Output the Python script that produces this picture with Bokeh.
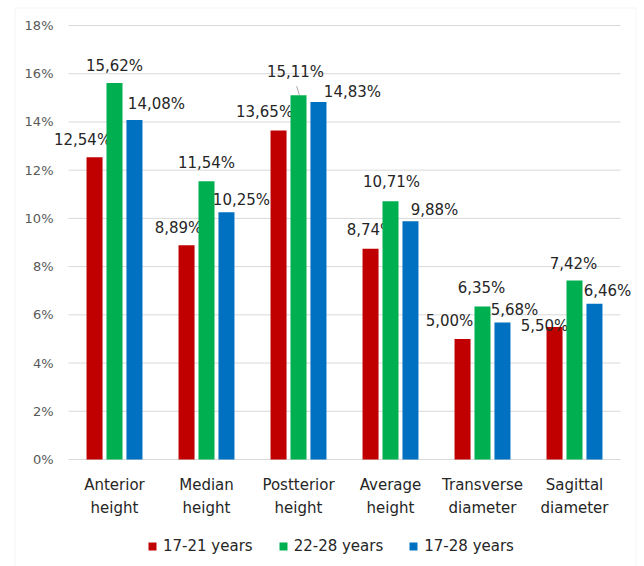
from bokeh.plotting import figure
from bokeh.models import (ColumnDataSource, Range1d, FixedTicker,
                          PrintfTickFormatter, Legend, LegendItem, BoxAnnotation)
from bokeh.embed import file_html
from bokeh.resources import INLINE
from bokeh.core.properties import value

categories = ["Anterior\nheight", "Median\nheight", "Postterior\nheight",
              "Average\nheight", "Transverse\ndiameter", "Sagittal\ndiameter"]
series_names = ["17-21 years", "22-28 years", "17-28 years"]
v_17_21 = [12.54, 8.89, 13.65, 8.74, 5.00, 5.50]
v_22_28 = [15.62, 11.54, 15.11, 10.71, 6.35, 7.42]
v_17_28 = [14.08, 10.25, 14.83, 9.88, 5.68, 6.46]
y_ticks = [0, 2, 4, 6, 8, 10, 12, 14, 16, 18]

series = [v_17_21, v_22_28, v_17_28]
colors = ["#C00000", "#00B050", "#0070C0"]
offsets = [-0.217, 0.0, 0.217]
# label pixel nudges (style), as Excel moved them
label_dx = [[-12, -8, -14, 0, -13, -10],
            [0, 0, -3, 1, -1, -1],
            [22, 15, 34, 24, 12, 13]]
label_dy = [[-17, -17, -18, -19, -18, -1],
            [-17, -18, -23, -19, -18, -17],
            [-16, -12, -10, -11, -13, -13]]

FONT = "DejaVu Sans"
TXT = "#262626"
GRID = "#d9d9d9"

n = len(categories)
centers = [i + 0.5 for i in range(n)]

PX_X = 92.0       # pixels per category
PX_Y = 24.111     # pixels per percent
x0, x1 = -55 / PX_X, n + 16 / PX_X
y0, y1 = -107 / PX_Y, y_ticks[-1] + 19 / PX_Y

p = figure(width=644, height=566, output_backend="svg", toolbar_location=None,
           x_range=Range1d(x0, x1), y_range=Range1d(y0, y1),
           min_border_left=13, min_border_right=8, min_border_top=6,
           min_border_bottom=0)
p.outline_line_color = None
p.background_fill_color = "white"
p.border_fill_color = "white"
p.xgrid.visible = False
p.ygrid.visible = False

# outer chart border (open at the bottom edge of the picture)
p.add_layout(BoxAnnotation(left=x0 + 1.5 / PX_X, right=x1 - 0.5 / PX_X,
                           top=y1 - 1.5 / PX_Y, bottom=y0 - 2,
                           fill_color=None, line_color=GRID, line_width=1))

# horizontal gridlines across the category span
p.segment(x0=[0] * len(y_ticks), x1=[n] * len(y_ticks), y0=y_ticks, y1=y_ticks,
          line_color=GRID, line_width=1)

renderers = []
for vals, col, off, dx, dy in zip(series, colors, offsets, label_dx, label_dy):
    xs = [c + off for c in centers]
    src = ColumnDataSource(dict(x=xs, top=vals,
                                lab=[f"{v:.2f}".replace(".", ",") + "%" for v in vals],
                                dx=dx, dy=dy))
    r = p.vbar(x="x", top="top", width=0.174, source=src,
               fill_color=col, line_color=None)
    renderers.append(r)
    p.text(x="x", y="top", text="lab", source=src,
           x_offset="dx", y_offset="dy", text_align="center", text_baseline="middle",
           text_font=value(FONT), text_font_size="15px", text_color=TXT)

# leader line for the raised 15,11% label
p.segment(x0=[centers[2] + offsets[1] - 0.02], y0=[v_22_28[2] + 0.37],
          x1=[centers[2] + offsets[1] + 0.01], y1=[v_22_28[2]],
          line_color="#a6a6a6", line_width=1)

# y axis fixed at x=0
p.yaxis.fixed_location = 0
p.yaxis.ticker = FixedTicker(ticks=y_ticks)
p.yaxis.formatter = PrintfTickFormatter(format="%d%%")
p.yaxis.axis_line_color = None
p.yaxis.major_tick_line_color = None
p.yaxis.minor_tick_line_color = None
p.yaxis.major_tick_in = 0
p.yaxis.major_tick_out = 0
p.yaxis.major_label_standoff = 15
p.yaxis.major_label_text_font = FONT
p.yaxis.major_label_text_font_size = "13px"
p.yaxis.major_label_text_color = "#595959"

# x axis fixed at y=0
p.xaxis.fixed_location = 0
p.xaxis.ticker = FixedTicker(ticks=centers)
p.xaxis.major_label_overrides = {c: lab for c, lab in zip(centers, categories)}
p.xaxis.axis_line_color = None
p.xaxis.major_tick_line_color = None
p.xaxis.minor_tick_line_color = None
p.xaxis.major_tick_in = 0
p.xaxis.major_tick_out = 0
p.xaxis.major_label_standoff = 17
p.xaxis.major_label_text_font = FONT
p.xaxis.major_label_text_font_size = "15px"
p.xaxis.major_label_text_color = TXT
p.xaxis.major_label_text_line_height = 1.25

legend = Legend(items=[LegendItem(label=s, renderers=[r]) for s, r in zip(series_names, renderers)],
                orientation="horizontal", location=(134, 10),
                glyph_width=10, glyph_height=10, label_standoff=6, spacing=25,
                label_height=20, padding=0, margin=0, border_line_color=None,
                background_fill_alpha=0,
                label_text_font=FONT, label_text_font_size="15px",
                label_text_color=TXT)
p.add_layout(legend)

open("out.html", "w").write(file_html(p, INLINE))
